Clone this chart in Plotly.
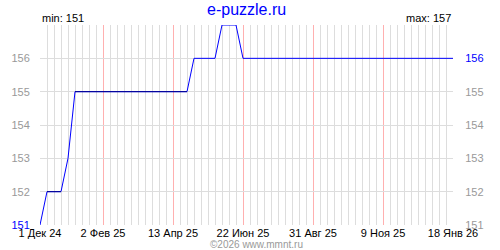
import plotly.graph_objects as go

dates = ["2024-12-01", "2024-12-08", "2024-12-22", "2024-12-29", "2025-01-05",
         "2025-04-27", "2025-05-04", "2025-05-25", "2025-06-01", "2025-06-15",
         "2025-06-22", "2026-01-18"]
values = [151, 152, 152, 153, 155, 155, 156, 156, 157, 157, 156, 156]

dark_dates = ["2024-12-08", "2024-12-22", None, "2025-01-05", "2025-04-27"]
dark_values = [152, 152, None, 155, 155]

x_tickvals = ["2024-12-01", "2025-02-02", "2025-04-13", "2025-06-22",
              "2025-08-31", "2025-11-09", "2026-01-18"]
x_ticktext = ["1 Дек 24", "2 Фев 25", "13 Апр 25", "22 Июн 25",
              "31 Авг 25", "9 Ноя 25", "18 Янв 26"]
y_tickvals = [151, 152, 153, 154, 155, 156]
y_min, y_max, y_last = 151, 157, 156

FONT = "Liberation Sans"
GRAY = "#999999"

def lab(v, hi):
    return f"<span style='color:#0000ff'>{v}</span>" if v == hi else str(v)

fig = go.Figure()
fig.add_trace(go.Scatter(x=dates, y=values, mode="lines",
                         line=dict(color="#0000ff", width=1), hoverinfo="skip"))
fig.add_trace(go.Scatter(x=dark_dates, y=dark_values, mode="lines",
                         line=dict(color="#00008c", width=1), hoverinfo="skip",
                         connectgaps=False))
fig.add_trace(go.Scatter(x=[dates[0]], y=[values[0]], yaxis="y2", mode="markers",
                         marker=dict(opacity=0), hoverinfo="skip"))

fig.update_layout(
    width=500, height=250,
    margin=dict(l=40, r=47, t=25, b=25, pad=0, autoexpand=False),
    paper_bgcolor="white", plot_bgcolor="white",
    showlegend=False,
    font=dict(family=FONT, size=11, color="black"),
    xaxis=dict(
        type="date", automargin=False,
        range=["2024-12-01", "2026-01-18"],
        tickmode="array", tickvals=x_tickvals, ticktext=x_ticktext,
        showgrid=True, gridcolor="#ffb0b0", gridwidth=1,
        zeroline=False, showline=False, ticks="",
        tickfont=dict(family=FONT, size=11, color="black"),
        minor=dict(tick0="2024-12-01", dtick=7 * 86400000, showgrid=True,
                   gridcolor="#dddddd", gridwidth=1, ticks=""),
        layer="below traces",
    ),
    yaxis=dict(
        range=[y_min, y_max], automargin=False,
        tickmode="array", tickvals=y_tickvals,
        ticktext=[lab(v, y_min) for v in y_tickvals],
        showgrid=True, gridcolor="#dddddd", gridwidth=1,
        zeroline=False, showline=False, ticks="outside", ticklen=7,
        tickcolor="rgba(0,0,0,0)",
        tickfont=dict(family=FONT, size=11, color=GRAY),
    ),
    yaxis2=dict(
        range=[y_min, y_max], overlaying="y", side="right", automargin=False,
        tickmode="array", tickvals=y_tickvals,
        ticktext=[lab(v, y_last) for v in y_tickvals],
        showgrid=False, zeroline=False, showline=False,
        ticks="outside", ticklen=9, tickcolor="rgba(0,0,0,0)",
        tickfont=dict(family=FONT, size=11, color=GRAY),
    ),
    annotations=[
        dict(text="e-puzzle.ru", x=0.5, y=1, xref="paper", yref="paper",
             xanchor="center", yanchor="middle", yshift=16, showarrow=False,
             font=dict(family=FONT, size=16, color="#0000ff")),
        dict(text=f"min: {y_min}", x=0, y=1, xref="paper", yref="paper",
             xanchor="left", yanchor="bottom", showarrow=False, yshift=-1,
             font=dict(family=FONT, size=11, color="black")),
        dict(text=f"max: {y_max}", x=1, y=1, xref="paper", yref="paper",
             xanchor="right", yanchor="bottom", showarrow=False, yshift=-1,
             font=dict(family=FONT, size=11, color="black")),
        dict(text="©2026 www.mmnt.ru", x=0.525, y=0, xref="paper", yref="paper",
             xanchor="center", yanchor="middle", yshift=-19.5, showarrow=False,
             font=dict(family=FONT, size=10, color=GRAY)),
    ],
)

fig.write_html("out.html")
